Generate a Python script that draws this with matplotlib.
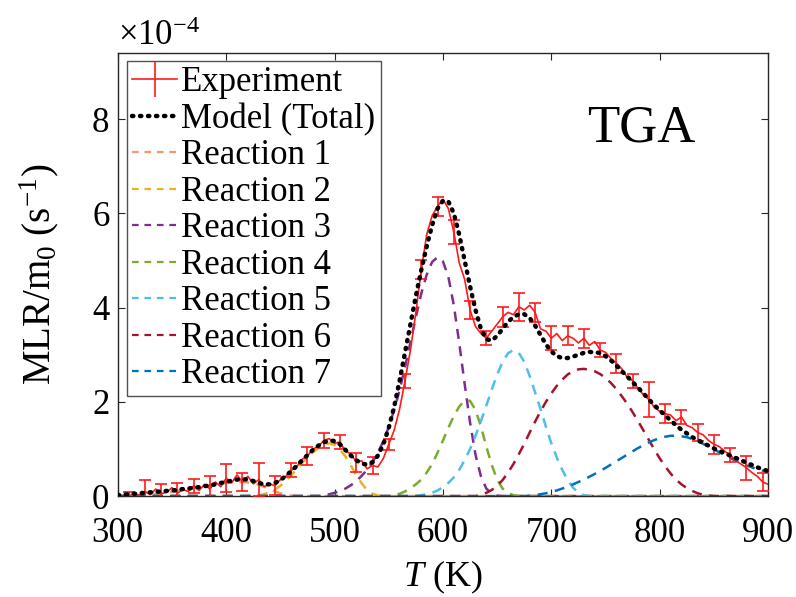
import numpy as np
import matplotlib
matplotlib.use("Agg")
import matplotlib.pyplot as plt
from matplotlib.lines import Line2D

plt.rcParams['font.family'] = ['Liberation Serif', 'DejaVu Serif']
plt.rcParams['mathtext.fontset'] = 'custom'
plt.rcParams['mathtext.rm'] = 'Liberation Serif'
plt.rcParams['mathtext.it'] = 'Liberation Serif:italic'

# ---------------- data (units of 1e-4 s^-1) ----------------
T_step = 5
# Experiment: T from 310 to 900 K every 5 K
exp_T0 = 310
exp_mlr = [0.00, 0.05, 0.02, 0.10, 0.03, 0.15, 0.05, 0.08, 0.18, 0.06,
           0.14, 0.10, 0.22, 0.12, 0.25, 0.15, 0.30, 0.20, 0.38, 0.28,
           0.45, 0.30, 0.42, 0.26, 0.35, 0.20, 0.26, 0.22, 0.35, 0.42,
           0.55, 0.62, 0.78, 0.85, 1.00, 1.05, 1.18, 1.22, 1.12, 1.15,
           0.95, 0.90, 0.72, 0.75, 0.58, 0.65, 0.62, 0.80, 1.10, 1.40,
           1.85, 2.45, 3.10, 3.90, 4.80, 5.55, 5.95, 6.15, 6.30, 6.10,
           5.60, 4.95, 4.60, 3.95, 3.60, 3.45, 3.35, 3.50, 3.65, 3.80,
           3.90, 3.85, 4.02, 3.95, 4.05, 3.90, 3.55, 3.50, 3.35, 3.45,
           3.30, 3.40, 3.35, 3.25, 3.35, 3.20, 3.28, 3.10, 3.05, 2.92,
           2.82, 2.70, 2.52, 2.45, 2.28, 2.15, 2.05, 1.88, 1.80, 1.75,
           1.72, 1.60, 1.68, 1.50, 1.45, 1.35, 1.30, 1.18, 1.10, 1.05,
           0.95, 0.88, 0.75, 0.68, 0.60, 0.50, 0.42, 0.30, 0.25]
# error bar half-widths on every 3rd experimental point
exp_err = [0.08, 0.25, 0.20, 0.22, 0.15, 0.28, 0.30, 0.20, 0.35, 0.20,
           0.15, 0.20, 0.15, 0.15, 0.20, 0.18, 0.12, 0.15, 0.20, 0.20,
           0.25, 0.20, 0.15, 0.22, 0.30, 0.20, 0.25, 0.20, 0.20, 0.15,
           0.20, 0.15, 0.38, 0.20, 0.15, 0.18, 0.20, 0.15, 0.25, 0.20]

# Model total: T from 300 to 900 K every 5 K
model_T0 = 300
model_total = [0.02, 0.03, 0.04, 0.05, 0.06, 0.07, 0.08, 0.09, 0.10, 0.11,
               0.12, 0.13, 0.15, 0.16, 0.18, 0.19, 0.21, 0.23, 0.25, 0.28,
               0.30, 0.33, 0.35, 0.36, 0.35, 0.32, 0.28, 0.25, 0.25, 0.28,
               0.34, 0.43, 0.53, 0.64, 0.76, 0.87, 0.98, 1.07, 1.14, 1.18,
               1.17, 1.10, 0.98, 0.86, 0.76, 0.69, 0.67, 0.72, 0.86, 1.10,
               1.45, 1.90, 2.45, 3.05, 3.65, 4.25, 4.80, 5.30, 5.75, 6.10,
               6.27, 6.25, 6.00, 5.55, 5.00, 4.45, 3.95, 3.55, 3.33, 3.30,
               3.40, 3.55, 3.70, 3.80, 3.86, 3.86, 3.78, 3.62, 3.42, 3.22,
               3.07, 2.97, 2.93, 2.93, 2.96, 3.00, 3.04, 3.06, 3.05, 3.04,
               2.97, 2.88, 2.77, 2.65, 2.54, 2.42, 2.30, 2.18, 2.05, 1.93,
               1.82, 1.71, 1.61, 1.50, 1.41, 1.33, 1.25, 1.19, 1.13, 1.07,
               1.01, 0.96, 0.91, 0.86, 0.81, 0.76, 0.71, 0.66, 0.61, 0.57,
               0.53]

# Individual reactions: (start temperature, values every 5 K); zero elsewhere
r1_T0 = 320
r1 = [0.01, 0.02, 0.03, 0.04, 0.06, 0.07, 0.09, 0.11, 0.13, 0.15, 0.17,
      0.19, 0.21, 0.23, 0.25, 0.27, 0.28, 0.29, 0.30, 0.30, 0.29, 0.27,
      0.24, 0.20, 0.15, 0.10, 0.06, 0.03, 0.01, 0.00]
r2_T0 = 430
r2 = [0.02, 0.04, 0.08, 0.14, 0.22, 0.32, 0.44, 0.57, 0.70, 0.82, 0.93,
      1.02, 1.09, 1.12, 1.09, 0.99, 0.84, 0.65, 0.45, 0.27, 0.13, 0.05,
      0.01, 0.00]
r3_T0 = 490
r3 = [0.02, 0.04, 0.07, 0.11, 0.16, 0.23, 0.32, 0.43, 0.56, 0.72, 0.92,
      1.17, 1.47, 1.83, 2.25, 2.74, 3.27, 3.80, 4.30, 4.70, 4.97, 5.07,
      4.98, 4.65, 4.05, 3.25, 2.38, 1.56, 0.88, 0.42, 0.16, 0.05, 0.01,
      0.00]
r4_T0 = 555
r4 = [0.02, 0.05, 0.10, 0.17, 0.25, 0.35, 0.50, 0.68, 0.92, 1.18, 1.45,
      1.70, 1.90, 2.03, 2.02, 1.83, 1.48, 1.05, 0.66, 0.35, 0.16, 0.06,
      0.02, 0.00]
r5_T0 = 580
r5 = [0.02, 0.04, 0.07, 0.12, 0.19, 0.28, 0.40, 0.56, 0.76, 1.00, 1.28,
      1.59, 1.92, 2.26, 2.58, 2.85, 3.03, 3.10, 3.04, 2.85, 2.55, 2.20,
      1.85, 1.47, 1.12, 0.82, 0.56, 0.34, 0.18, 0.07, 0.02, 0.00]
r6_T0 = 635
r6 = [0.03, 0.07, 0.13, 0.22, 0.34, 0.50, 0.68, 0.89, 1.11, 1.35, 1.58,
      1.80, 2.00, 2.18, 2.34, 2.47, 2.58, 2.65, 2.69, 2.70, 2.68, 2.65,
      2.59, 2.51, 2.40, 2.27, 2.12, 1.96, 1.78, 1.59, 1.39, 1.19, 0.99,
      0.80, 0.63, 0.48, 0.35, 0.25, 0.17, 0.11, 0.06, 0.03, 0.01, 0.00]
r7_T0 = 680
r7 = [0.01, 0.02, 0.04, 0.06, 0.09, 0.12, 0.16, 0.20, 0.25, 0.30, 0.35,
      0.41, 0.47, 0.53, 0.60, 0.67, 0.74, 0.81, 0.88, 0.95, 1.02, 1.08,
      1.14, 1.19, 1.23, 1.26, 1.28, 1.28, 1.27, 1.25, 1.21, 1.16, 1.11,
      1.05, 0.99, 0.93, 0.87, 0.81, 0.75, 0.70, 0.65, 0.61, 0.57, 0.54,
      0.51]

reactions = [(r1_T0, r1), (r2_T0, r2), (r3_T0, r3), (r4_T0, r4),
             (r5_T0, r5), (r6_T0, r6), (r7_T0, r7)]
reaction_labels = ['Reaction %d' % i for i in range(1, 8)]
reaction_colors = ['#F4956E', '#EDB120', '#7E2F8E', '#77AC30',
                   '#4DBEEE', '#A2142F', '#0072BD']

x_ticks = [300, 400, 500, 600, 700, 800, 900]
y_ticks = [0, 2, 4, 6, 8]

# ---------------- plotting ----------------
fig = plt.figure(figsize=(7.96, 5.97), dpi=100)
ax = fig.add_axes([0.148, 0.169, 0.817, 0.742])

T_grid = np.arange(300, 900 + T_step, T_step)

exp_T = exp_T0 + T_step * np.arange(len(exp_mlr))
exp_y = np.array(exp_mlr)
idx = np.arange(0, len(exp_mlr), 3)[:len(exp_err)]

red = '#FF1A1A'
ax.plot(exp_T, exp_y, color=red, lw=1.2, zorder=3)
ax.errorbar(exp_T[idx], exp_y[idx], yerr=exp_err, fmt='none',
            ecolor=red, elinewidth=1.2, capsize=4, capthick=1.2,
            zorder=3)

model_T = model_T0 + T_step * np.arange(len(model_total))
ax.plot(model_T, model_total, color='black', lw=3.2,
        linestyle=(0, (0.3, 1.5)), dash_capstyle='round', zorder=4)

for (t0, vals), col in zip(reactions, reaction_colors):
    full = np.zeros_like(T_grid, dtype=float)
    start = int((t0 - 300) // T_step)
    n = min(len(vals), len(T_grid) - start)
    full[start:start + n] = vals[:n]
    ax.plot(T_grid, full, color=col, lw=1.8, linestyle=(0, (4, 3)),
            zorder=2)

# legend
h_exp = ax.errorbar([], [], yerr=[], color=red, lw=1.2, capsize=5)
handles = [h_exp,
           Line2D([], [], color='black', lw=3.2, linestyle=(0, (0.3, 1.5)),
                  dash_capstyle='round')]
for col in reaction_colors:
    handles.append(Line2D([], [], color=col, lw=1.6,
                          linestyle=(0, (3, 2.6))))
labels = ['Experiment', 'Model (Total)'] + reaction_labels
leg = ax.legend(handles, labels, loc='upper left',
                bbox_to_anchor=(0.014, 0.982), fontsize=25,
                handlelength=1.3, handletextpad=0.12, labelspacing=0.1,
                borderpad=0.15, borderaxespad=0.0, frameon=True,
                fancybox=False, edgecolor='#262626')
leg.get_frame().set_linewidth(1.0)

ax.set_xlim(300, 900)
ax.set_ylim(0, 9.4)
ax.set_xticks(x_ticks)
ax.set_yticks(y_ticks)
ax.tick_params(direction='in', top=True, right=True, labelsize=25,
               length=5, width=0.8, colors='#262626', labelcolor='black')
ax.tick_params(axis='x', pad=15)
ax.tick_params(axis='y', pad=6)
for sp in ax.spines.values():
    sp.set_color('#262626')
    sp.set_linewidth(1.0)

ax.set_xlabel(r'$\mathit{T}$ (K)', fontsize=26, labelpad=6)
ax.set_ylabel(r'MLR/m$_0$ (s$^{-1}$)', fontsize=28, labelpad=22)
ax.text(0.0, 1.0, r'$\times10^{-4}$', transform=ax.transAxes,
        fontsize=25, ha='left', va='bottom')
ax.text(783, 7.8, 'TGA', fontsize=38, ha='center', va='center')

fig.savefig('out.png', dpi=100)
